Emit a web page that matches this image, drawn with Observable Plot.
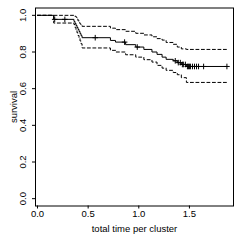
<!DOCTYPE html>
<html><head><meta charset="utf-8">
<script src="https://cdn.jsdelivr.net/npm/d3@7"></script>
<script src="https://cdn.jsdelivr.net/npm/@observablehq/plot@0.6"></script>
<style>body{margin:0;background:#fff}</style>
</head><body><div id="chart"></div>
<script>
// Kaplan-Meier estimate with confidence band
const stepTimes = [0, 0.16, 0.36, 0.37, 0.38, 0.39, 0.40, 0.41, 0.42, 0.43, 0.44, 0.72, 0.77, 0.87, 0.97, 1.05, 1.13, 1.18, 1.23, 1.27, 1.34, 1.38, 1.42, 1.47, 1.87];
const survival = [1, 0.978, 0.967, 0.956, 0.945, 0.934, 0.923, 0.912, 0.900, 0.889, 0.878, 0.863, 0.854, 0.840, 0.827, 0.814, 0.800, 0.787, 0.772, 0.760, 0.752, 0.742, 0.732, 0.721, 0.721];
const upperCI = [1, 1, 1, 0.995, 0.99, 0.98, 0.97, 0.96, 0.953, 0.946, 0.94, 0.93, 0.922, 0.913, 0.902, 0.893, 0.883, 0.873, 0.865, 0.852, 0.842, 0.827, 0.817, 0.814, 0.814];
const lowerCI = [1, 0.958, 0.95, 0.935, 0.92, 0.905, 0.89, 0.875, 0.86, 0.845, 0.822, 0.809, 0.80, 0.785, 0.772, 0.758, 0.745, 0.727, 0.712, 0.70, 0.688, 0.676, 0.66, 0.634, 0.634];
const censorTimes = [0.17, 0.27, 0.57, 0.86, 0.985, 1.36, 1.39, 1.41, 1.43, 1.44, 1.46, 1.48, 1.49, 1.50, 1.51, 1.53, 1.55, 1.57, 1.59, 1.64, 1.87];
const xTicks = [0, 0.5, 1, 1.5];
const yTicks = [0, 0.2, 0.4, 0.6, 0.8, 1];

const toRows = (vals) => stepTimes.map((t, i) => ({t, v: vals[i]}));
const stepAt = (t) => survival[d3.bisectRight(stepTimes, t) - 1];
const censorRows = censorTimes.map(t => ({t, v: stepAt(t)}));

const plusSymbol = {draw(ctx, size) {
  const r = Math.sqrt(size / Math.PI);
  ctx.moveTo(-r, 0); ctx.lineTo(r, 0);
  ctx.moveTo(0, -r); ctx.lineTo(0, r);
}};

const font = "'Liberation Sans', Arial, Helvetica, sans-serif";
const chart = Plot.plot({
  width: 241, height: 241,
  marginLeft: 35, marginRight: 8, marginTop: 7.5, marginBottom: 35.5,
  style: {fontFamily: font, fontSize: "9.5px", background: "#fff", color: "#000"},
  x: {domain: [-0.0197, 1.935]},
  y: {domain: [-0.04, 1.04]},
  marks: [
    Plot.frame({stroke: "#000"}),
    Plot.axisX({ticks: xTicks, tickFormat: d3.format(".1f"), tickSize: 3, tickPadding: 1.5,
      label: "total time per cluster", labelAnchor: "center", labelArrow: "none", labelOffset: 26}),
    Plot.axisY({ticks: yTicks, tickFormat: d3.format(".1f"), tickSize: 3, tickRotate: -90, tickPadding: 7,
      label: "survival", labelAnchor: "center", labelArrow: "none", labelOffset: 25}),
    Plot.line(toRows(upperCI), {x: "t", y: "v", curve: "step-after", stroke: "#000", strokeWidth: 1, strokeDasharray: "3,2.5"}),
    Plot.line(toRows(lowerCI), {x: "t", y: "v", curve: "step-after", stroke: "#000", strokeWidth: 1, strokeDasharray: "3,2.5"}),
    Plot.line(toRows(survival), {x: "t", y: "v", curve: "step-after", stroke: "#000", strokeWidth: 1}),
    Plot.dot(censorRows, {x: "t", y: "v", symbol: plusSymbol, r: 2.8, stroke: "#000", fill: "none", strokeWidth: 1})
  ]
});
document.getElementById("chart").appendChild(chart);
</script>
</body></html>
